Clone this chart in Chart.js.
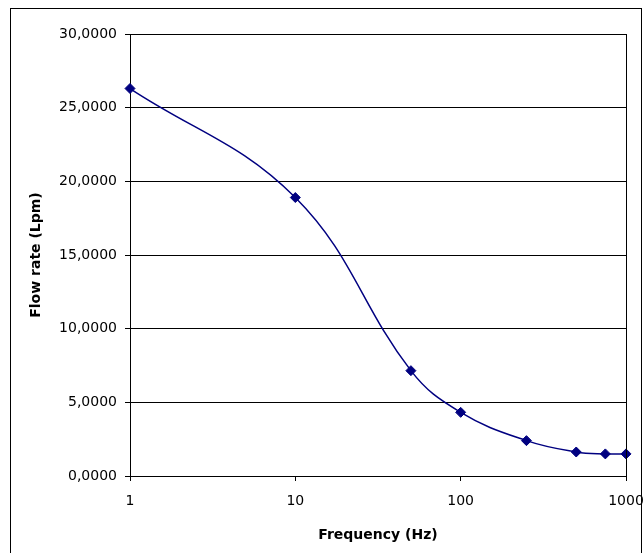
<!DOCTYPE html>
<html>
<head>
<meta charset="utf-8">
<script src="https://cdn.jsdelivr.net/npm/chart.js@4/dist/chart.umd.min.js"></script>
<style>
  html, body { margin: 0; padding: 0; background: #fff; }
  #flowChart { display: block; }
</style>
</head>
<body>
<canvas id="flowChart" width="643" height="553"></canvas>
<script>
// values
const frequencies = [1, 10, 50, 100, 250, 500, 750, 1000];
const flowRates = [26.3, 18.9, 7.15, 4.32, 2.4, 1.63, 1.5, 1.5];
const xTickValues = [1, 10, 100, 1000];

const FONT = "'DejaVu Sans', sans-serif";

// right edge of the plot box + outer frame (Excel style)
const frames = {
    id: 'frames',
    afterDraw(chart) {
        const ctx = chart.ctx;
        const a = chart.chartArea;
        ctx.save();
        ctx.strokeStyle = '#000';
        ctx.lineWidth = 1;
        ctx.beginPath();
        const rx = Math.round(a.right) + 0.5;
        ctx.moveTo(rx, a.top);
        ctx.lineTo(rx, a.bottom);
        ctx.stroke();
        ctx.strokeRect(10.5, 8.5, 631, 600);
        ctx.restore();
    }
};

var ctx = document.getElementById('flowChart').getContext('2d');
var flowChart = new Chart(ctx, {
    type: 'line',
    data: {
        datasets: [{
            label: 'Flow rate',
            data: frequencies.map((f, i) => ({ x: f, y: flowRates[i] })),
            borderColor: '#000080',
            backgroundColor: '#000080',
            borderWidth: 1.5,
            tension: 0.4,
            clip: false,
            pointStyle: 'rectRot',
            pointRadius: 5,
            pointBorderWidth: 1,
            pointBorderColor: '#000080',
            pointBackgroundColor: '#000080',
            fill: false
        }]
    },
    options: {
        responsive: false,
        animation: false,
        layout: { padding: { top: 34, right: 17, left: 0, bottom: 0 } },
        plugins: {
            legend: { display: false },
            tooltip: { enabled: false }
        },
        scales: {
            x: {
                type: 'logarithmic',
                min: 1,
                max: 1000,
                afterFit: (scale) => {
                    scale.height = 77;
                    scale.paddingLeft = 0;
                    scale.paddingRight = 0;
                },
                border: { display: true, color: '#000', width: 1 },
                grid: {
                    drawOnChartArea: false,
                    drawTicks: true,
                    tickLength: 5,
                    color: '#000'
                },
                ticks: {
                    autoSkip: false,
                    maxRotation: 0,
                    padding: 12,
                    color: '#000',
                    font: { family: FONT, size: 14 },
                    callback: (v) => xTickValues.includes(v) ? String(v) : null
                },
                title: {
                    display: true,
                    text: 'Frequency (Hz)',
                    color: '#000',
                    font: { family: FONT, size: 14, weight: 'bold' },
                    padding: { top: 0, bottom: 9 }
                }
            },
            y: {
                min: 0,
                max: 30,
                afterFit: (scale) => {
                    scale.width = 130;
                    scale.paddingTop = 0;
                    scale.paddingBottom = 0;
                },
                border: { display: true, color: '#000', width: 1 },
                grid: {
                    color: '#000',
                    lineWidth: 1,
                    drawTicks: true,
                    tickLength: 5
                },
                ticks: {
                    stepSize: 5,
                    padding: 8,
                    color: '#000',
                    font: { family: FONT, size: 14 },
                    callback: (v) => v.toFixed(4).replace('.', ',')
                },
                title: {
                    display: true,
                    text: 'Flow rate (Lpm)',
                    color: '#000',
                    font: { family: FONT, size: 14, weight: 'bold' },
                    padding: { top: 28, bottom: 0 }
                }
            }
        }
    },
    plugins: [frames]
});
</script>
</body>
</html>
